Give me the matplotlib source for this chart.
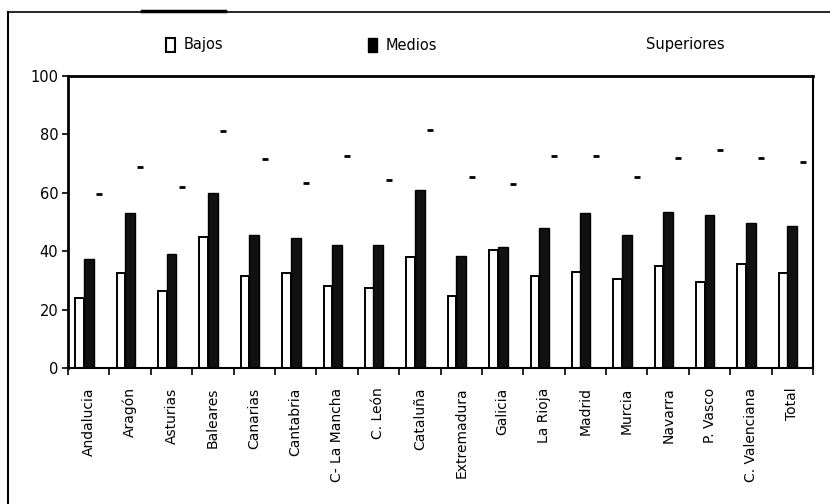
import numpy as np
import matplotlib
matplotlib.use('Agg')
import matplotlib.pyplot as plt
from matplotlib.patches import Patch
from matplotlib.lines import Line2D

# Estudios por comunidad autonoma (%)
regions = ['Andalucia', 'Aragón', 'Asturias', 'Baleares', 'Canarias', 'Cantabria',
           'C- La Mancha', 'C. León', 'Cataluña', 'Extremadura', 'Galicia', 'La Rioja',
           'Madrid', 'Murcia', 'Navarra', 'P. Vasco', 'C. Valenciana', 'Total']
bajos = [24, 32.5, 26.5, 45, 31.5, 32.5, 28, 27.5, 38, 24.5, 40.5, 31.5,
         33, 30.5, 35, 29.5, 35.5, 32.5]
medios = [37.5, 53, 39, 60, 45.5, 44.5, 42, 42, 61, 38.5, 41.5, 48,
          53, 45.5, 53.5, 52.5, 49.5, 48.5]
superiores = [59.5, 69, 62, 81, 71.5, 63.5, 72.5, 64.5, 81.5, 65.5, 63, 72.5,
              72.5, 65.5, 72, 74.5, 72, 70.5]
yticks = [0, 20, 40, 60, 80, 100]

plt.rcParams['font.family'] = ['DejaVu Sans']

fig = plt.figure(figsize=(8.3, 5.04), dpi=100)
ax = fig.add_axes([68 / 830, 1 - 368 / 504, (813 - 68) / 830, (368 - 76) / 504])

x = np.arange(len(regions))
ax.bar(x - 0.22, bajos, 0.21, color='white', edgecolor='black', linewidth=1.4)
ax.bar(x, medios, 0.24, color='#111111', edgecolor='black', linewidth=1.0)
# the "Superiores" bars are only visible as their top edge
ax.plot(x + 0.25, superiores, linestyle='none', marker='_', color='black',
        markersize=5, markeredgewidth=2)

ax.set_xlim(-0.5, len(regions) - 0.5)
ax.set_ylim(0, 100)
ax.set_yticks(yticks)
ax.tick_params(axis='y', direction='out', length=4, width=1.2, labelsize=10.5, pad=3)
ax.set_xticks(x)
ax.set_xticklabels(regions, rotation=90, fontsize=10)
ax.set_xticks(np.arange(len(regions) + 1) - 0.5, minor=True)
ax.tick_params(axis='x', which='major', length=0, pad=14)
ax.tick_params(axis='x', which='minor', direction='out', length=5, width=1.2)

for side in ['left', 'top']:
    ax.spines[side].set_linewidth(2)
ax.spines['right'].set_linewidth(1.5)
ax.spines['bottom'].set_linewidth(1.5)

# legend entries placed one by one, as in the original
entries = [('Bajos', Patch(facecolor='white', edgecolor='black', linewidth=1.5), 166),
           ('Medios', Patch(facecolor='black', edgecolor='black'), 368),
           ('Superiores', Patch(facecolor='white', edgecolor='none'), 628)]
for label, handle, xpos in entries:
    leg = fig.legend([handle], [label], frameon=False, loc='center left',
                     bbox_to_anchor=(xpos / 830, 1 - 45 / 504), fontsize=10.5,
                     handlelength=0.6, handleheight=1.1, handletextpad=0.6,
                     borderpad=0, borderaxespad=0)

# outer frame of the scanned figure
fig.add_artist(Line2D([8 / 830, 8 / 830], [0, 1 - 12 / 504], color='black', linewidth=1.5))
fig.add_artist(Line2D([8 / 830, 1], [1 - 12 / 504, 1 - 12 / 504], color='black', linewidth=1.2))
fig.add_artist(Line2D([142 / 830, 225 / 830], [1 - 11 / 504, 1 - 11 / 504], color='black', linewidth=2.5))

fig.savefig('out.png', dpi=100)
